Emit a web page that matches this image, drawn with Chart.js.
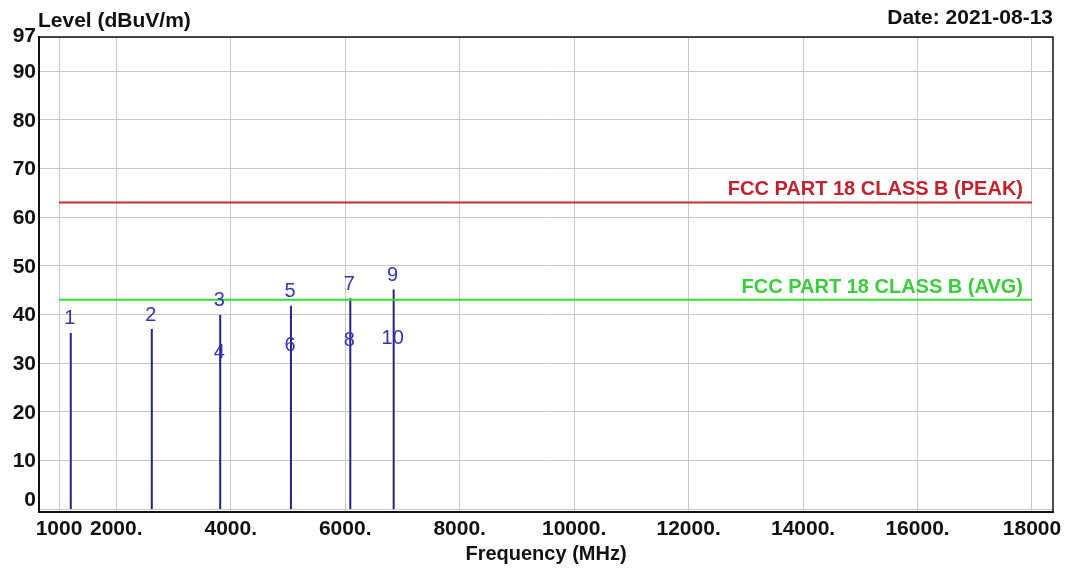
<!DOCTYPE html>
<html>
<head>
<meta charset="utf-8">
<script src="https://cdn.jsdelivr.net/npm/chart.js@4"></script>
<style>
  html, body { margin: 0; padding: 0; background: #fff; }
  #wrap { width: 1072px; height: 570px; }
</style>
</head>
<body>
<div id="wrap"><canvas id="emiChart"></canvas></div>
<script>
// marker readings
const markerNo = ['1', '2', '3', '4', '5', '6', '7', '8', '9', '10'];
const markerFreq = [1205, 2621, 3816, 3816, 5052, 5052, 6089, 6089, 6847, 6847];
const markerLevel = [36.2, 37.0, 39.9, 29.4, 41.8, 30.8, 43.3, 31.7, 45.1, 32.2];

// limit lines
const limitNames = ['FCC PART 18 CLASS B (PEAK)', 'FCC PART 18 CLASS B (AVG)'];
const limitLevels = [63, 43];
const limitStart = 1000;
const limitEnd = 18000;

// axes
const xTickValues = [1000, 2000, 4000, 6000, 8000, 10000, 12000, 14000, 16000, 18000];
const xTickLabels = ['1000', '2000.', '4000.', '6000.', '8000.', '10000.', '12000.', '14000.', '16000.', '18000'];
const yTickValues = [0, 10, 20, 30, 40, 50, 60, 70, 80, 90, 97];

const FONT = '"Liberation Sans", Arial, sans-serif';

function spike_data() {
    let pts = [];
    for (let i = 0; i < markerFreq.length; i++) {
        pts.push({x: markerFreq[i], y: 0});
        pts.push({x: markerFreq[i], y: markerLevel[i]});
        pts.push({x: markerFreq[i], y: null});
    }
    return pts;
}

const overlay = {
    id: 'overlay',
    afterDraw(chart) {
        const ctx = chart.ctx;
        const a = chart.chartArea;
        const xs = chart.scales.x;
        const ys = chart.scales.y;
        ctx.save();

        // frame top / right
        ctx.strokeStyle = '#111';
        ctx.lineWidth = 1.5;
        ctx.beginPath();
        ctx.moveTo(a.left, a.top);
        ctx.lineTo(a.right, a.top);
        ctx.lineTo(a.right, a.bottom);
        ctx.stroke();

        // y tick labels
        ctx.fillStyle = '#111';
        ctx.font = 'bold 21px ' + FONT;
        ctx.textAlign = 'right';
        ctx.textBaseline = 'middle';
        yTickValues.forEach(v => {
            let py = ys.getPixelForValue(v);
            if (v === 0) py -= 10;
            if (v === 97) py -= 2;
            ctx.fillText(String(v), a.left - 3, py + 1);
        });

        // titles
        ctx.font = 'bold 21px ' + FONT;
        ctx.textBaseline = 'alphabetic';
        ctx.textAlign = 'left';
        ctx.fillText('Level (dBuV/m)', a.left - 1, 27);
        ctx.textAlign = 'right';
        ctx.fillText('Date: 2021-08-13', a.right, 24);
        ctx.textAlign = 'center';
        ctx.font = 'bold 20px ' + FONT;
        ctx.fillText('Frequency (MHz)', (a.left + a.right) / 2, 560);

        // limit labels
        const limitColors = ['#c0232e', '#3ccc3c'];
        ctx.font = 'bold 20px ' + FONT;
        ctx.textAlign = 'right';
        limitNames.forEach((name, i) => {
            ctx.fillStyle = limitColors[i];
            ctx.fillText(name, a.right - 30, ys.getPixelForValue(limitLevels[i]) - 7);
        });

        // marker numbers
        ctx.fillStyle = '#3434b4';
        ctx.font = '20px ' + FONT;
        ctx.textAlign = 'center';
        ctx.textBaseline = 'middle';
        for (let i = 0; i < markerNo.length; i++) {
            ctx.fillText(markerNo[i], xs.getPixelForValue(markerFreq[i]) - 1, ys.getPixelForValue(markerLevel[i]) - 14);
        }
        ctx.restore();
    }
};

function draw_chart() {
    const ctx = document.getElementById('emiChart').getContext('2d');
    new Chart(ctx, {
        type: 'scatter',
        data: {
            datasets: [
                {
                    data: [{x: limitStart, y: limitLevels[0]}, {x: limitEnd, y: limitLevels[0]}],
                    showLine: true,
                    borderColor: '#cc2a2a',
                    borderWidth: 2,
                    pointRadius: 0
                },
                {
                    data: [{x: limitStart, y: limitLevels[1]}, {x: limitEnd, y: limitLevels[1]}],
                    showLine: true,
                    borderColor: '#33dd33',
                    borderWidth: 2,
                    pointRadius: 0
                },
                {
                    data: spike_data(),
                    showLine: true,
                    spanGaps: false,
                    borderColor: '#24248a',
                    borderWidth: 2,
                    pointRadius: 0
                }
            ]
        },
        options: {
            responsive: true,
            maintainAspectRatio: false,
            animation: false,
            layout: {
                padding: {top: 37, right: 19, left: 0, bottom: 0}
            },
            plugins: {
                legend: {display: false},
                tooltip: {enabled: false}
            },
            scales: {
                x: {
                    type: 'linear',
                    min: 650,
                    max: 18367,
                    afterBuildTicks: (scale) => {
                        scale.ticks = xTickValues.map(v => ({value: v}));
                    },
                    afterFit: (scale) => {
                        scale.height = 58;
                    },
                    ticks: {
                        autoSkip: false,
                        maxRotation: 0,
                        padding: 5,
                        color: '#111',
                        font: {family: FONT, size: 21, weight: 'bold'},
                        callback: (v) => xTickLabels[xTickValues.indexOf(v)]
                    },
                    grid: {
                        color: '#c8c8c8',
                        drawTicks: false
                    },
                    border: {
                        color: '#111',
                        width: 2
                    }
                },
                y: {
                    min: -0.6,
                    max: 97,
                    afterBuildTicks: (scale) => {
                        scale.ticks = yTickValues.map(v => ({value: v}));
                    },
                    afterFit: (scale) => {
                        scale.width = 39;
                    },
                    ticks: {
                        display: false
                    },
                    grid: {
                        color: '#c8c8c8',
                        drawTicks: false
                    },
                    border: {
                        color: '#111',
                        width: 2
                    }
                }
            }
        },
        plugins: [overlay]
    });
}

window.onload = () => {
    draw_chart();
}
</script>
</body>
</html>
